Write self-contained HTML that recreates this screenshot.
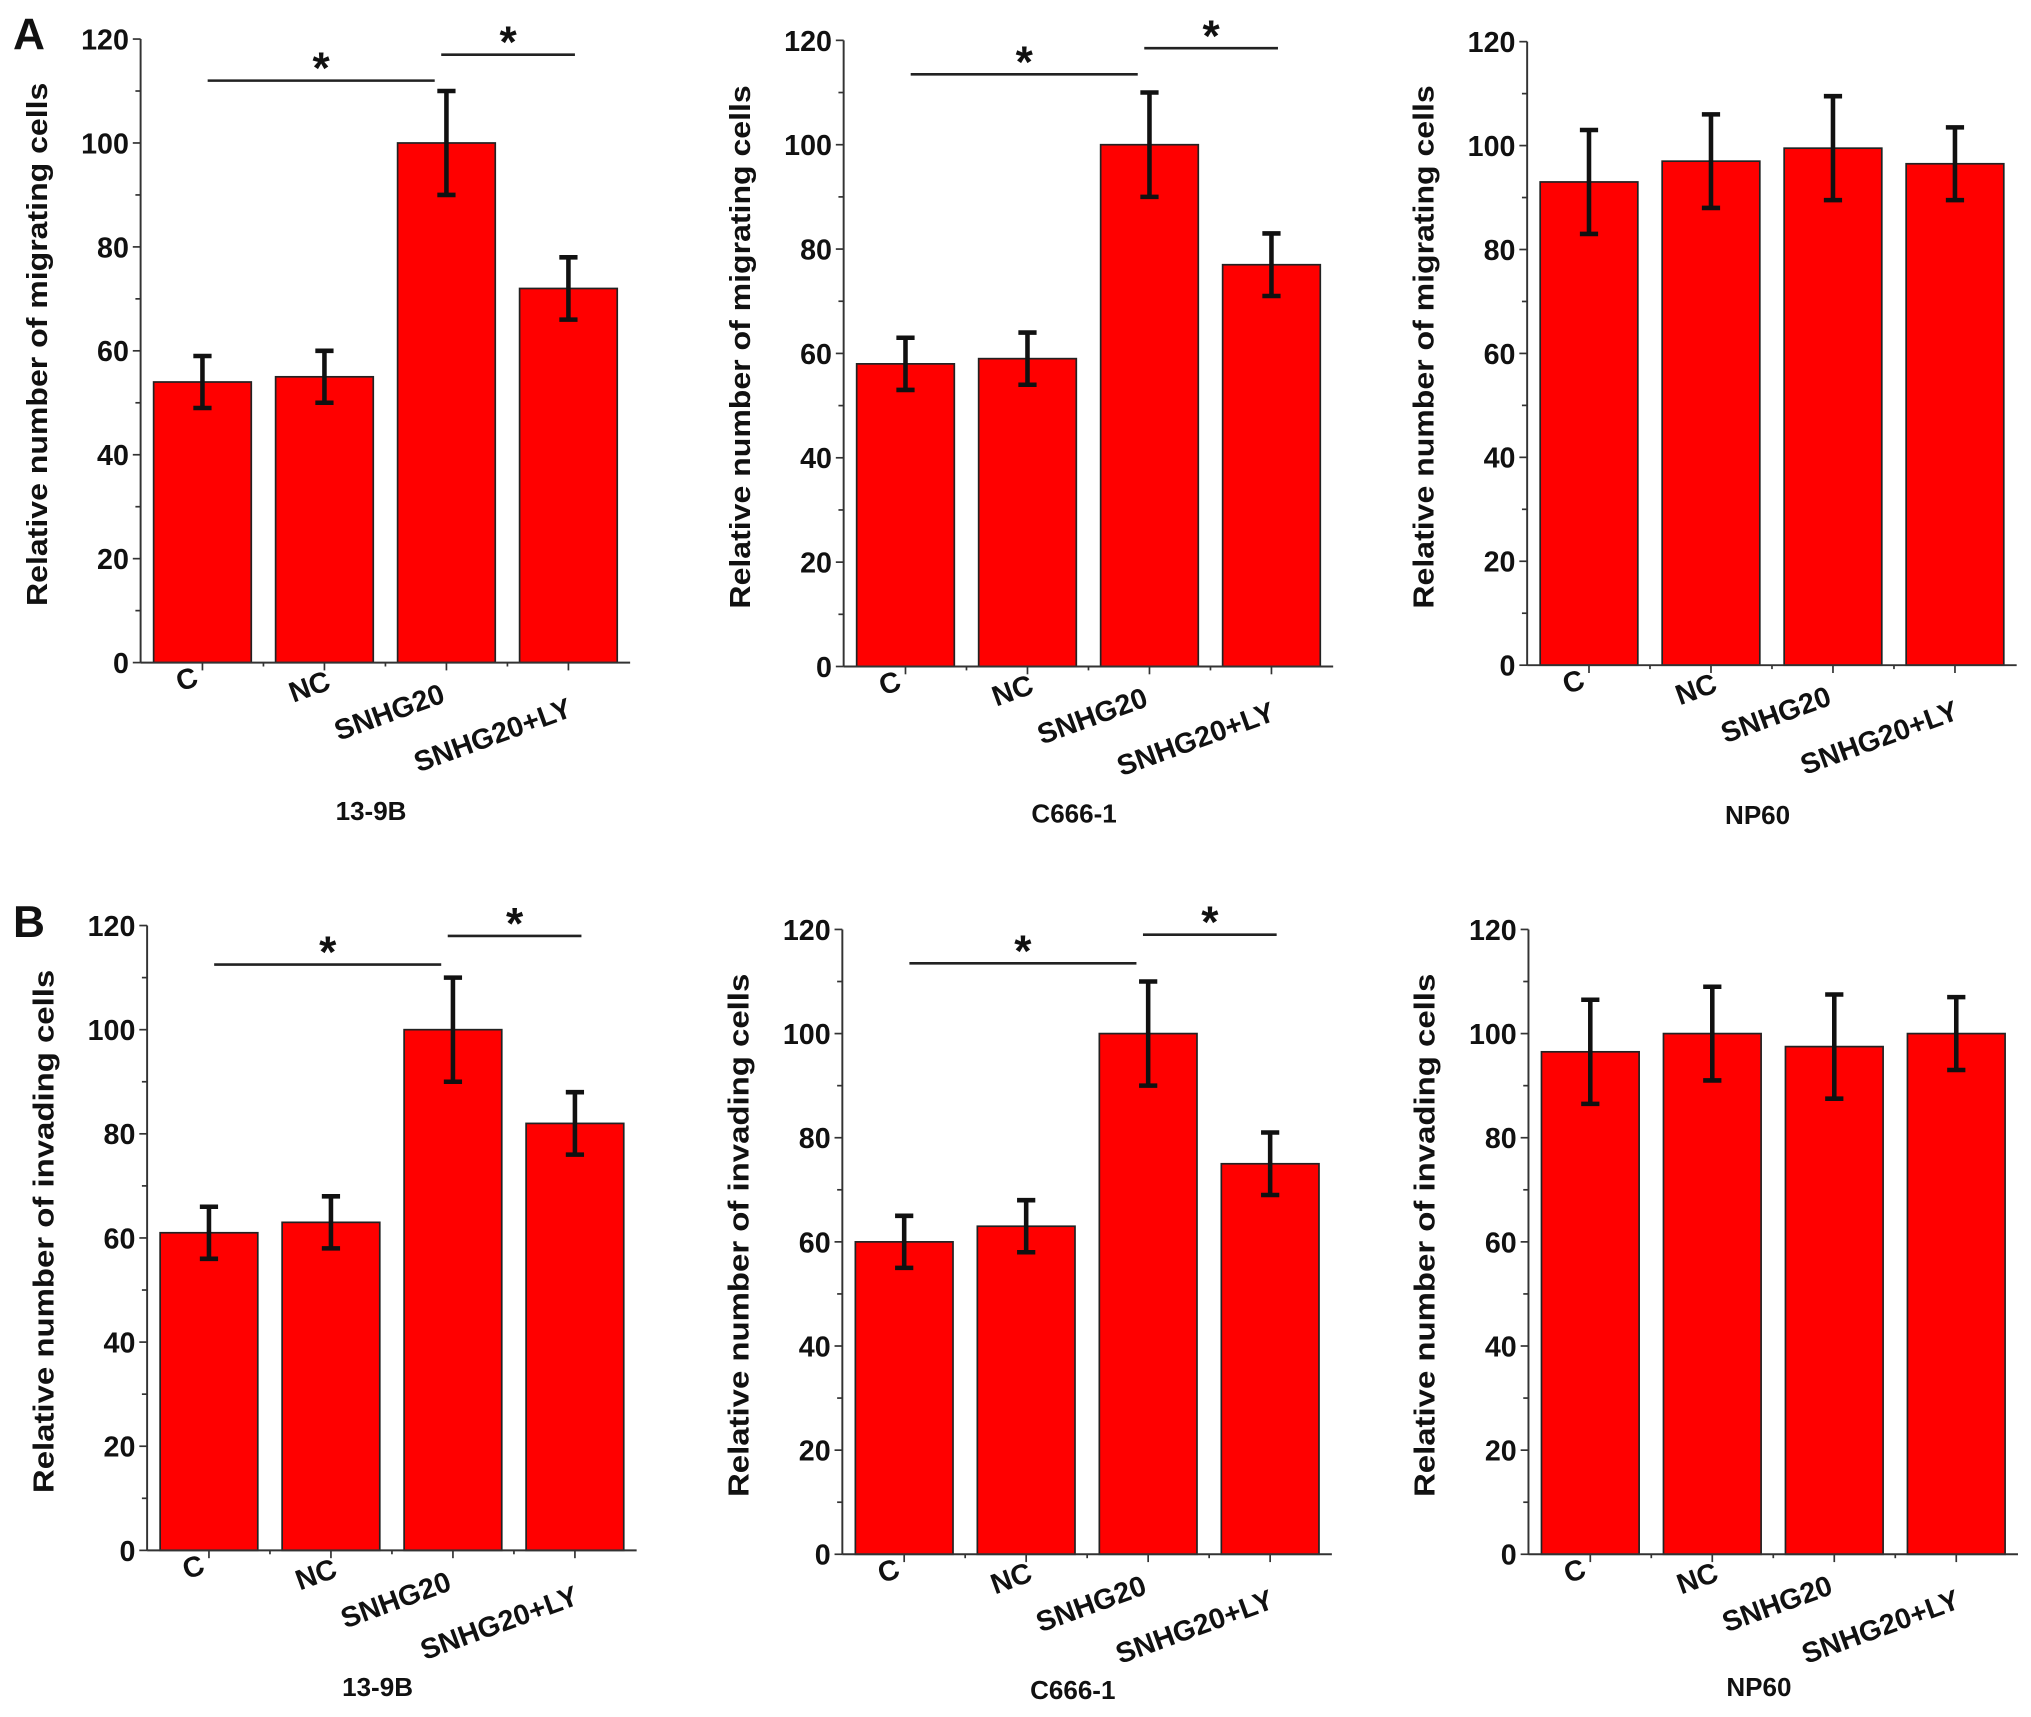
<!DOCTYPE html>
<html><head><meta charset="utf-8"><style>
html,body{margin:0;padding:0;background:#fff;}
svg{display:block;}
text{font-family:"Liberation Sans",Arial,sans-serif;font-weight:bold;fill:#111;}
</style></head><body>
<svg id="fig" width="2031" height="1717" viewBox="0 0 1560 1319" preserveAspectRatio="none" xmlns="http://www.w3.org/2000/svg">
<text x="10" y="38" font-size="34">A</text>
<text x="10" y="720" font-size="34">B</text>
</svg>
<script>
const categories = ["C", "NC", "SNHG20", "SNHG20+LY"];
const yTicks = [0, 20, 40, 60, 80, 100, 120];
const a1Values = [54, 55, 100, 72];
const a1Errors = [5, 5, 10, 6];
const a2Values = [58, 59, 100, 77];
const a2Errors = [5, 5, 10, 6];
const a3Values = [93, 97, 99.5, 96.5];
const a3Errors = [10, 9, 10, 7];
const b1Values = [61, 63, 100, 82];
const b1Errors = [5, 5, 10, 6];
const b2Values = [60, 63, 100, 75];
const b2Errors = [5, 5, 10, 6];
const b3Values = [96.5, 100, 97.5, 100];
const b3Errors = [10, 9, 10, 7];
const sigA1 = [[0, 2, 112], [2, 3, 117]];
const sigA2 = [[0, 2, 113.5], [2, 3, 118.5]];
const sigB1 = [[0, 2, 112.5], [2, 3, 118]];
const sigB2 = [[0, 2, 113.5], [2, 3, 119]];
const cellLines = ["13-9B", "C666-1", "NP60"];

const NS = "http://www.w3.org/2000/svg";
const svg = document.getElementById("fig");
function mk(tag, attrs, parent) {
  const e = document.createElementNS(NS, tag);
  for (const k in attrs) e.setAttribute(k, attrs[k]);
  (parent || svg).appendChild(e);
  return e;
}
const panels = [
  {id:"a1", ax:108, y0:509, yTop:30, vals:a1Values, errs:a1Errors, sig:sigA1, cell:0, tOff:121, ylab:"Relative number of migrating cells"},
  {id:"a2", ax:648, y0:512, yTop:31, vals:a2Values, errs:a2Errors, sig:sigA2, cell:1, tOff:120, ylab:"Relative number of migrating cells"},
  {id:"a3", ax:1173, y0:511, yTop:32, vals:a3Values, errs:a3Errors, sig:[], cell:2, tOff:122, ylab:"Relative number of migrating cells"},
  {id:"b1", ax:113, y0:1191, yTop:711, vals:b1Values, errs:b1Errors, sig:sigB1, cell:0, tOff:112, ylab:"Relative number of invading cells"},
  {id:"b2", ax:647, y0:1194, yTop:714, vals:b2Values, errs:b2Errors, sig:sigB2, cell:1, tOff:111, ylab:"Relative number of invading cells"},
  {id:"b3", ax:1174, y0:1194, yTop:714, vals:b3Values, errs:b3Errors, sig:[], cell:2, tOff:109, ylab:"Relative number of invading cells"}
];
const labOff = [[-2,17],[6,20],[0,30],[4,41]];
panels.forEach(p => {
  const g = mk("g", {});
  
  
  const yS = v => p.y0 - (v / 120) * (p.y0 - p.yTop);
  const pitch = 93.7, bw = 75;
  const xC = i => p.ax + 10 + bw / 2 + i * pitch;
  p.vals.forEach((v, i) => {
    const r = mk("rect", {x: xC(i) - bw/2, y: yS(v), width: bw, height: p.y0 - yS(v), fill: "#ff0000", stroke: "#222", "stroke-width": 1.3}, g);
    
    
  });
  p.vals.forEach((v, i) => {
    const e = p.errs[i], x = xC(i);
    const eg = mk("g", {stroke: "#111", "stroke-width": 3.5}, g);
    
    
    mk("line", {x1: x, x2: x, y1: yS(v + e), y2: yS(v - e)}, eg);
    mk("line", {x1: x - 7, x2: x + 7, y1: yS(v + e), y2: yS(v + e)}, eg);
    mk("line", {x1: x - 7, x2: x + 7, y1: yS(v - e), y2: yS(v - e)}, eg);
  });
  const yAx = mk("line", {x1: p.ax, x2: p.ax, y1: p.yTop, y2: p.y0, stroke: "#333", "stroke-width": 1.5}, g);
  
  
  const xAx = mk("line", {x1: p.ax, x2: p.ax + 376, y1: p.y0, y2: p.y0, stroke: "#333", "stroke-width": 1.5}, g);
  
  
  for (let v = 0; v <= 120; v += 10) {
    const major = v % 20 === 0;
    mk("line", {x1: p.ax - (major ? 6 : 4), x2: p.ax, y1: yS(v), y2: yS(v), stroke: "#333", "stroke-width": 1.3}, g);
  }
  yTicks.forEach(v => {
    const t = mk("text", {x: p.ax - 9, y: yS(v) + 8, "font-size": 22, "text-anchor": "end"}, g);
    t.textContent = v;
    
    
  });
  categories.forEach((c, i) => {
    mk("line", {x1: xC(i), x2: xC(i), y1: p.y0, y2: p.y0 + 6, stroke: "#333", "stroke-width": 1.3}, g);
    if (i < 3) mk("line", {x1: xC(i) + pitch/2, x2: xC(i) + pitch/2, y1: p.y0, y2: p.y0 + 3, stroke: "#333", "stroke-width": 1.3}, g);
    const ex = xC(i) + labOff[i][0], ey = p.y0 + labOff[i][1];
    const t = mk("text", {x: ex, y: ey, "font-size": 22, "text-anchor": "end", transform: `rotate(-20 ${ex} ${ey})`}, g);
    t.textContent = c;
    
    
  });
  const cy = (p.y0 + p.yTop) / 2 - 5, lx = p.ax - 72;
  const yl = mk("text", {x: lx, y: cy, "font-size": 22, "text-anchor": "middle", transform: `rotate(-90 ${lx} ${cy})`, textLength: 402, lengthAdjust: "spacingAndGlyphs"}, g);
  yl.textContent = p.ylab;
  
  
  const tx = p.ax + 177, ty = p.y0 + p.tOff;
  const ct = mk("text", {x: tx, y: ty, "font-size": 20, "text-anchor": "middle"}, g);
  ct.textContent = cellLines[p.cell];
  
  
  p.sig.forEach((s, k) => {
    const x1 = k === 0 ? xC(s[0]) + 4 : xC(s[0]) - 4;
    const x2 = k === 0 ? xC(s[1]) - 9 : xC(s[1]) + 5;
    const sl = mk("line", {x1: x1, x2: x2, y1: yS(s[2]), y2: yS(s[2]), stroke: "#222", "stroke-width": 2}, g);
    
    
    const st = mk("text", {x: (x1 + x2) / 2, y: yS(s[2]) + 2, "font-size": 34, "text-anchor": "middle"}, g);
    st.textContent = "*";
    
    
  });
});
</script>
</body></html>
